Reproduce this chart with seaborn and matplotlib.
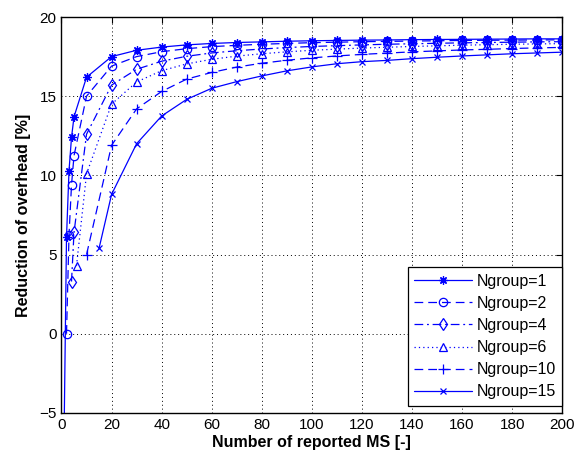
import pandas as pd
import numpy as np
import matplotlib
matplotlib.use("Agg")
import matplotlib.pyplot as plt
import seaborn as sns

# =============================
# Données
# =============================
n_tail = [10, 20, 30, 40, 50, 60, 70, 80, 90, 100,
          110, 120, 130, 140, 150, 160, 170, 180, 190, 200]

n_g1 = [1, 2, 3, 4, 5] + n_tail
red_g1 = [-6.75, 6.1, 10.3, 12.4, 13.7,
          16.2, 17.5, 17.9, 18.1, 18.24, 18.33, 18.39, 18.43, 18.47, 18.5,
          18.52, 18.54, 18.55, 18.57, 18.58, 18.59, 18.6, 18.61, 18.62, 18.62]

n_g2 = [2, 3, 4, 5] + n_tail
red_g2 = [0.0, 6.25, 9.4, 11.25,
          15.0, 16.9, 17.5, 17.81, 18.0, 18.13, 18.21, 18.28, 18.33, 18.38,
          18.41, 18.44, 18.46, 18.48, 18.5, 18.52, 18.53, 18.54, 18.55, 18.56]

n_g4 = [4, 5] + n_tail
red_g4 = [3.3, 6.4,
          12.6, 15.7, 16.7, 17.21, 17.52, 17.73, 17.87, 17.98, 18.07, 18.14,
          18.19, 18.24, 18.28, 18.31, 18.34, 18.37, 18.39, 18.41, 18.43, 18.44]

n_g6 = [6] + n_tail
red_g6 = [4.3,
          10.1, 14.5, 15.9, 16.61, 17.04, 17.33, 17.53, 17.68, 17.8, 17.9,
          17.97, 18.04, 18.09, 18.14, 18.18, 18.22, 18.25, 18.28, 18.3, 18.32]

n_g10 = n_tail
red_g10 = [5.0, 11.9, 14.2, 15.3, 16.08, 16.5, 16.84, 17.08, 17.27, 17.42,
           17.54, 17.64, 17.72, 17.8, 17.86, 17.92, 17.96, 18.01, 18.05, 18.08]

n_g15 = [15] + n_tail[1:]
red_g15 = [5.4, 8.8, 12.0, 13.75, 14.8, 15.5, 15.92, 16.28, 16.6, 16.85,
           17.05, 17.18, 17.26, 17.37, 17.46, 17.54, 17.61, 17.68, 17.73, 17.78]

groups = ["Ngroup=1", "Ngroup=2", "Ngroup=4", "Ngroup=6", "Ngroup=10", "Ngroup=15"]
series = [(n_g1, red_g1), (n_g2, red_g2), (n_g4, red_g4),
          (n_g6, red_g6), (n_g10, red_g10), (n_g15, red_g15)]

df = pd.concat([
    pd.DataFrame({"N": n, "reduction": r, "groupe": g})
    for g, (n, r) in zip(groups, series)
], ignore_index=True)

# style MATLAB : trait, marqueur et taille par courbe
styles = {
    "Ngroup=1": ("-", (8, 2, 0), 6),
    "Ngroup=2": ((0, (7, 4)), "o", 6),
    "Ngroup=4": ((0, (7, 3, 1.5, 3)), "d", 6),
    "Ngroup=6": ((0, (1, 2.5)), "^", 6),
    "Ngroup=10": ((0, (7, 4)), "+", 7),
    "Ngroup=15": ("-", "x", 4.5),
}

# =============================
# Figure
# =============================
sns.set_style("white")
plt.rcParams["font.family"] = ["Liberation Sans Narrow", "Liberation Sans", "DejaVu Sans"]

fig = plt.figure(figsize=(5.78, 4.57), dpi=100)
ax = fig.add_axes([0.1064, 0.0963, 0.9728 - 0.1064, 0.9628 - 0.0963])

for g in groups:
    ls, mk, ms = styles[g]
    sub = df[df["groupe"] == g]
    sns.lineplot(data=sub, x="N", y="reduction", ax=ax, color="#0000ff",
                 linestyle=ls, marker=mk, markersize=ms, markerfacecolor="none",
                 markeredgecolor="#0000ff", markeredgewidth=0.9, linewidth=0.9,
                 label=g, sort=False, estimator=None)

ax.set_xlim(0, 200)
ax.set_ylim(-5, 20)
ax.set_xticks(np.arange(0, 201, 20))
ax.set_yticks(np.arange(-5, 21, 5))
ax.grid(True, color="black", linestyle=(0, (1, 3)), linewidth=0.7)
ax.tick_params(direction="in", top=True, right=True, length=4,
               labelsize=11, colors="black")
for s in ax.spines.values():
    s.set_color("black")
    s.set_linewidth(1.0)

ax.set_xlabel("Number of reported MS [-]", fontsize=11.5, fontweight="bold",
              family=["Liberation Sans", "DejaVu Sans"], labelpad=2, color="black")
ax.set_ylabel("Reduction of overhead [%]", fontsize=11.5, fontweight="bold",
              family=["Liberation Sans", "DejaVu Sans"], labelpad=6, color="black")

leg = ax.legend(loc="lower right", bbox_to_anchor=(1.0, 0.018), borderaxespad=0,
                fancybox=False, edgecolor="black", framealpha=1, fontsize=11.5,
                handlelength=3.6, labelspacing=0.45, handletextpad=0.3,
                borderpad=0.4)
leg.get_frame().set_linewidth(0.9)
for t in leg.get_texts():
    t.set_color("black")

fig.savefig("out.png", dpi=100)
